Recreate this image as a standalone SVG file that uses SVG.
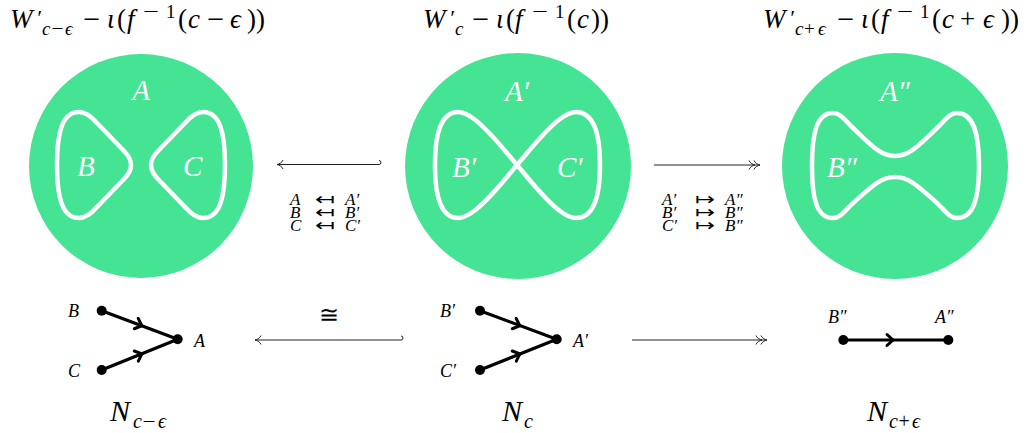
<svg xmlns="http://www.w3.org/2000/svg" width="1032" height="433" viewBox="0 0 1032 433" font-family="Liberation Serif">
<style>
.i{font-style:italic}
.w{fill:#fff;font-size:29px;font-style:italic}
.disk{fill:#45E394}
.curve{fill:none;stroke:#fff;stroke-width:4.5;stroke-linejoin:round}
.ln{fill:none;stroke:#222;stroke-width:1}
.edge{fill:none;stroke:#000;stroke-width:3.2}
.chev{fill:none;stroke:#000;stroke-width:3;stroke-linecap:round;stroke-linejoin:miter}
</style>
<defs>
<path id="head" class="ln" d="M-6,-4.5 C-5,-1.8 -2,-0.4 0,0 C-2,0.4 -5,1.8 -6,4.5"/>
<path id="chev" class="chev" d="M-4,-5.5 L2,0 L-4,5.5"/>
<path id="lobe" d="M-10,0 C-10,-6 -13,-10 -17,-14 L-44,-42 C-51,-50 -57,-53 -62,-53 C-79,-53 -84,-32 -84,0 C-84,32 -79,53 -62,53 C-57,53 -51,50 -44,42 L-17,14 C-13,10 -10,6 -10,0 Z"/>
</defs>

<g id="title-left" font-size="27" font-family="Liberation Serif">
<text y="28"><tspan x="10" class="i">W</tspan><tspan x="36" y="25" font-size="22" class="i">′</tspan><tspan x="42" y="35" font-size="19" class="i">c</tspan><tspan x="51.5" font-size="19" textLength="12" lengthAdjust="spacingAndGlyphs">−</tspan><tspan x="65" font-size="19" class="i">ϵ</tspan><tspan x="83" y="28" textLength="17" lengthAdjust="spacingAndGlyphs">−</tspan><tspan x="107" class="i">ι</tspan><tspan x="117">(</tspan><tspan x="127" class="i">f</tspan><tspan x="143" y="18" font-size="19" textLength="16" lengthAdjust="spacingAndGlyphs">−</tspan><tspan x="166" font-size="19">1</tspan><tspan x="178" y="28">(</tspan><tspan x="188" class="i">c</tspan><tspan x="207" textLength="17" lengthAdjust="spacingAndGlyphs">−</tspan><tspan x="230" class="i">ϵ</tspan><tspan x="247">))</tspan></text>
</g>
<g id="title-mid" font-size="27" font-family="Liberation Serif">
<text y="28"><tspan x="423" class="i">W</tspan><tspan x="449" y="25" font-size="22" class="i">′</tspan><tspan x="455" y="35" font-size="19" class="i">c</tspan><tspan x="472" y="28" textLength="17" lengthAdjust="spacingAndGlyphs">−</tspan><tspan x="496" class="i">ι</tspan><tspan x="506">(</tspan><tspan x="515" class="i">f</tspan><tspan x="532" y="18" font-size="19" textLength="16" lengthAdjust="spacingAndGlyphs">−</tspan><tspan x="555" font-size="19">1</tspan><tspan x="567" y="28">(</tspan><tspan x="577" class="i">c</tspan><tspan x="591">))</tspan></text>
</g>
<g id="title-right" font-size="27" font-family="Liberation Serif">
<text y="28"><tspan x="763" class="i">W</tspan><tspan x="789" y="25" font-size="22" class="i">′</tspan><tspan x="795" y="35" font-size="19" class="i">c</tspan><tspan x="804" font-size="19">+</tspan><tspan x="818" font-size="19" class="i">ϵ</tspan><tspan x="837" y="28" textLength="17" lengthAdjust="spacingAndGlyphs">−</tspan><tspan x="861" class="i">ι</tspan><tspan x="871">(</tspan><tspan x="881" class="i">f</tspan><tspan x="897" y="18" font-size="19" textLength="16" lengthAdjust="spacingAndGlyphs">−</tspan><tspan x="920" font-size="19">1</tspan><tspan x="932" y="28">(</tspan><tspan x="942" class="i">c</tspan><tspan x="960">+</tspan><tspan x="983" class="i">ϵ</tspan><tspan x="1001">))</tspan></text>
</g>

<g id="disk-left" font-family="Liberation Serif">
<circle class="disk" cx="141" cy="166" r="112"/>
<use href="#lobe" class="curve" transform="translate(141,165)"/>
<use href="#lobe" class="curve" transform="translate(141,165) scale(-1,1)"/>
<text class="w" x="141" y="100" text-anchor="middle">A</text>
<text class="w" x="77" y="176">B</text>
<text class="w" x="183" y="176">C</text>
</g>

<g id="disk-mid" font-family="Liberation Serif">
<circle class="disk" cx="518" cy="166" r="113"/>
<path class="curve" d="M517,165 C530,150 545,130 560,119 C568,113 572,112 576,112 C594,112 600,135 600,165 C600,195 594,218 576,218 C572,218 568,217 560,211 C545,200 530,180 517,165 C504,150 489,130 474,119 C466,113 462,112 458,112 C440,112 435,135 435,165 C435,195 440,218 458,218 C462,218 466,217 474,211 C489,200 504,180 517,165 Z"/>
<text class="w" x="505" y="101">A′</text>
<text class="w" x="452" y="177">B′</text>
<text class="w" x="557" y="177">C′</text>
</g>

<g id="disk-right" font-family="Liberation Serif">
<circle class="disk" cx="895" cy="166" r="113"/>
<path class="curve" d="M895,156 C880,156 870,144 852,127 C844,119 840,113 833,113 C816,113 812,135 812,166 C812,197 816,218 833,218 C840,218 844,212 852,204 C870,188 880,177 895,177 C910,177 920,188 938,204 C946,212 950,218 957,218 C974,218 979,197 979,166 C979,135 974,113 957,113 C950,113 946,119 938,127 C920,144 910,156 895,156 Z"/>
<text class="w" x="880" y="101">A″</text>
<text class="w" x="827" y="177">B″</text>
</g>

<g id="connectors">
<path class="ln" d="M277,164.5 L379,164.5 A2,2 0 0 0 379,160.5"/>
<use href="#head" transform="translate(277,164.5) rotate(180)"/>
<path class="ln" d="M654,165 L760,165"/>
<use href="#head" transform="translate(760,165)"/>
<use href="#head" transform="translate(755,165)"/>
<path class="ln" d="M255,340 L401,340 A2,2 0 0 0 401,336"/>
<use href="#head" transform="translate(255,340) rotate(180)"/>
<path class="ln" d="M632,340 L767,340"/>
<use href="#head" transform="translate(767,340)"/>
<use href="#head" transform="translate(762,340)"/>
</g>

<g id="map-left" font-size="17" font-family="Liberation Serif">
<text y="205"><tspan x="290" class="i">A</tspan><tspan x="315" font-family="DejaVu Sans" textLength="20" lengthAdjust="spacingAndGlyphs">↤</tspan><tspan x="345" class="i">A′</tspan></text>
<text y="218"><tspan x="290" class="i">B</tspan><tspan x="315" font-family="DejaVu Sans" textLength="20" lengthAdjust="spacingAndGlyphs">↤</tspan><tspan x="345" class="i">B′</tspan></text>
<text y="231"><tspan x="290" class="i">C</tspan><tspan x="315" font-family="DejaVu Sans" textLength="20" lengthAdjust="spacingAndGlyphs">↤</tspan><tspan x="345" class="i">C′</tspan></text>
</g>
<g id="map-right" font-size="17" font-family="Liberation Serif">
<text y="205"><tspan x="662" class="i">A′</tspan><tspan x="695" font-family="DejaVu Sans" textLength="20" lengthAdjust="spacingAndGlyphs">↦</tspan><tspan x="725" class="i">A″</tspan></text>
<text y="218"><tspan x="662" class="i">B′</tspan><tspan x="695" font-family="DejaVu Sans" textLength="20" lengthAdjust="spacingAndGlyphs">↦</tspan><tspan x="725" class="i">B″</tspan></text>
<text y="231"><tspan x="662" class="i">C′</tspan><tspan x="695" font-family="DejaVu Sans" textLength="20" lengthAdjust="spacingAndGlyphs">↦</tspan><tspan x="725" class="i">B″</tspan></text>
</g>

<text x="329" y="323" font-size="24" text-anchor="middle" font-family="DejaVu Serif">≅</text>

<g id="graph-left" font-size="18" font-family="Liberation Serif">
<path class="edge" d="M101.7,310.7 L177.7,339.3 M101.7,370 L177.7,339.3"/>
<use href="#chev" transform="translate(140,325) rotate(20.6)"/>
<use href="#chev" transform="translate(140,354.6) rotate(-22)"/>
<circle cx="101.7" cy="310.7" r="5"/><circle cx="177.7" cy="339.3" r="5"/><circle cx="101.7" cy="370" r="5"/>
<text class="i" x="68" y="317">B</text>
<text class="i" x="194" y="347">A</text>
<text class="i" x="68" y="377">C</text>
<text y="421" font-size="30"><tspan x="110" class="i">N</tspan><tspan x="133" y="428" font-size="20" class="i">c</tspan><tspan x="142.5" font-size="20" textLength="13" lengthAdjust="spacingAndGlyphs">−</tspan><tspan x="158" font-size="20" class="i">ϵ</tspan></text>
</g>

<g id="graph-mid" font-size="18" font-family="Liberation Serif">
<path class="edge" d="M480,310.7 L556.7,339.3 M480,370 L556.7,339.3"/>
<use href="#chev" transform="translate(518,325) rotate(20.5)"/>
<use href="#chev" transform="translate(518,354.6) rotate(-21.8)"/>
<circle cx="480" cy="310.7" r="5"/><circle cx="556.7" cy="339.3" r="5"/><circle cx="480" cy="370" r="5"/>
<text class="i" x="440" y="317">B′</text>
<text class="i" x="573" y="347">A′</text>
<text class="i" x="440" y="377">C′</text>
<text y="421" font-size="30"><tspan x="502" class="i">N</tspan><tspan x="524" y="428" font-size="20" class="i">c</tspan></text>
</g>

<g id="graph-right" font-size="18" font-family="Liberation Serif">
<path class="edge" d="M843.3,340 L948.3,340"/>
<use href="#chev" transform="translate(891,340)"/>
<circle cx="843.3" cy="340" r="5"/><circle cx="948.3" cy="340" r="5"/>
<text class="i" x="828" y="323">B″</text>
<text class="i" x="935" y="323">A″</text>
<text y="421" font-size="30"><tspan x="867" class="i">N</tspan><tspan x="889" y="428" font-size="20" class="i">c</tspan><tspan x="898.5" font-size="20">+</tspan><tspan x="912" font-size="20" class="i">ϵ</tspan></text>
</g>
</svg>
